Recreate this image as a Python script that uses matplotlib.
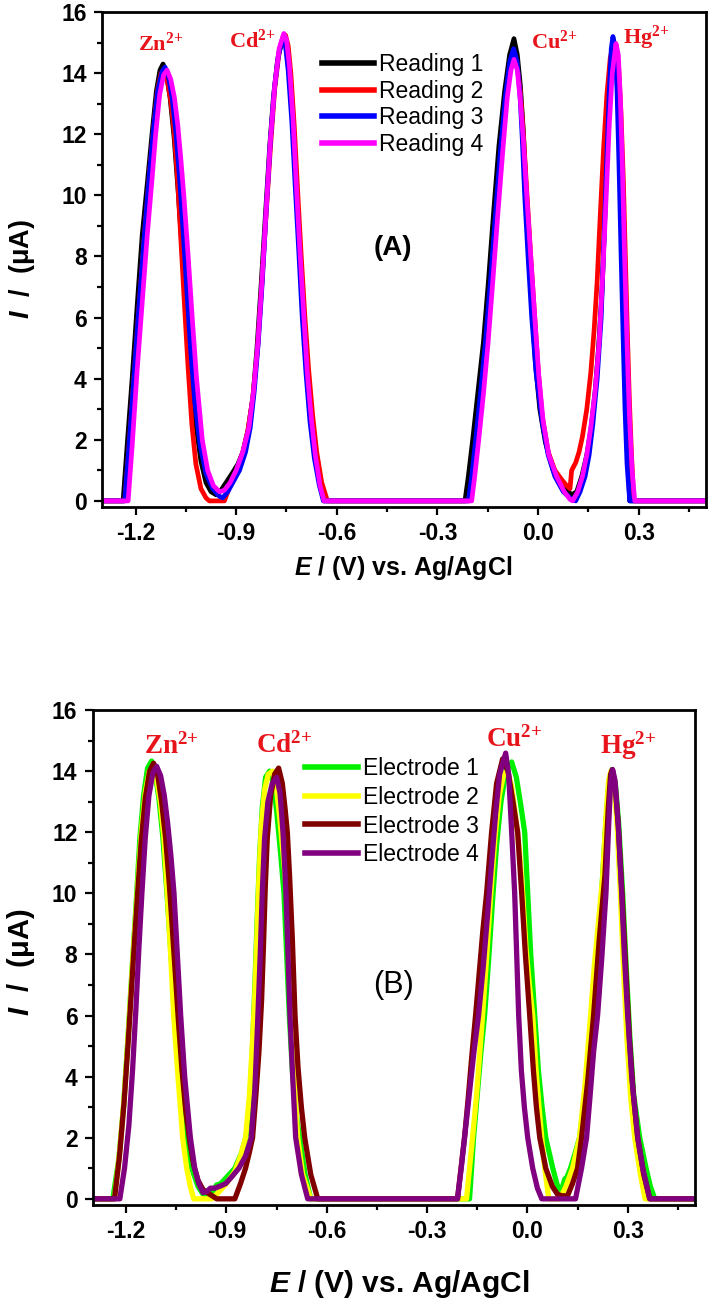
import numpy as np
import matplotlib
matplotlib.use("Agg")
import matplotlib.pyplot as plt
from matplotlib.ticker import MultipleLocator, FormatStrFormatter

plt.rcParams['font.family'] = ['Liberation Sans', 'DejaVu Sans']
plt.rcParams['font.weight'] = 'bold'
plt.rcParams['axes.unicode_minus'] = False
plt.rcParams['mathtext.fontset'] = 'custom'
plt.rcParams['mathtext.it'] = 'Liberation Sans:italic:bold'
plt.rcParams['mathtext.bf'] = 'Liberation Serif:bold'
plt.rcParams['mathtext.rm'] = 'Liberation Sans:bold'

# ---- panel A : four consecutive readings (E in V, I in uA) ----
reading_1 = [(-1.30, 0), (-1.237, 0), (-1.225, 1.8), (-1.21, 4.0), (-1.195, 6.4), (-1.18, 8.7),
             (-1.163, 10.6), (-1.15, 12.1), (-1.138, 13.4), (-1.127, 14.1), (-1.118, 14.3),
             (-1.108, 14.0), (-1.097, 13.2), (-1.085, 11.9), (-1.072, 10.0), (-1.06, 8.0),
             (-1.047, 6.0), (-1.035, 4.2), (-1.02, 2.5), (-1.005, 1.3), (-0.99, 0.6), (-0.975, 0.3),
             (-0.96, 0.2), (-0.945, 0.35), (-0.93, 0.6), (-0.912, 0.9), (-0.895, 1.2), (-0.88, 1.6),
             (-0.865, 2.3), (-0.85, 3.4), (-0.838, 5.0), (-0.826, 7.0), (-0.812, 9.5), (-0.8, 11.6),
             (-0.789, 13.2), (-0.777, 14.4), (-0.765, 15.0), (-0.758, 15.05), (-0.75, 14.8),
             (-0.742, 14.0), (-0.732, 12.5), (-0.722, 10.5), (-0.711, 8.3), (-0.70, 6.2),
             (-0.69, 4.4), (-0.68, 3.0), (-0.668, 1.9), (-0.656, 1.0), (-0.645, 0.3), (-0.638, 0),
             (-0.218, 0), (-0.208, 0.8), (-0.195, 2.0), (-0.18, 3.5), (-0.163, 5.2), (-0.148, 7.2),
             (-0.133, 9.4), (-0.117, 11.6), (-0.1, 13.4), (-0.085, 14.6),
             (-0.072, 15.13), (-0.062, 14.6), (-0.053, 13.6), (-0.044, 12.1), (-0.036, 10.2),
             (-0.027, 8.2), (-0.018, 6.3), (-0.008, 4.5), (0.005, 3.0), (0.022, 1.9), (0.045, 1.0),
             (0.065, 0.6), (0.085, 0.35), (0.10, 0.2), (0.115, 0.3), (0.13, 0.8), (0.145, 1.5),
             (0.158, 2.4), (0.17, 3.6), (0.18, 5.0), (0.19, 6.8), (0.198, 9.0), (0.205, 11.2),
             (0.212, 13.2), (0.218, 14.5), (0.224, 15.1), (0.23, 14.9), (0.236, 14.0),
             (0.242, 12.2), (0.248, 9.5), (0.254, 6.5), (0.26, 3.8), (0.266, 1.8), (0.273, 0),
             (0.50, 0)]
reading_2 = [(-1.30, 0), (-1.232, 0), (-1.22, 1.7), (-1.205, 4.0), (-1.19, 6.3), (-1.175, 8.5),
             (-1.16, 10.5), (-1.147, 12.1), (-1.135, 13.4), (-1.124, 14.0), (-1.115, 14.1),
             (-1.106, 13.8), (-1.095, 13.1), (-1.085, 12.1), (-1.075, 10.6), (-1.065, 8.6),
             (-1.055, 6.6), (-1.044, 4.5), (-1.032, 2.5), (-1.02, 1.2), (-1.005, 0.4), (-0.99, 0.1),
             (-0.98, 0), (-0.935, 0), (-0.925, 0.3), (-0.91, 0.7), (-0.895, 1.1), (-0.88, 1.6),
             (-0.865, 2.3), (-0.85, 3.4), (-0.836, 5.0), (-0.824, 7.0), (-0.81, 9.5), (-0.797, 11.7),
             (-0.785, 13.5), (-0.772, 14.7), (-0.76, 15.2), (-0.753, 15.25), (-0.745, 14.9),
             (-0.737, 14.0), (-0.727, 12.3), (-0.717, 10.2), (-0.706, 8.0), (-0.695, 6.0),
             (-0.684, 4.3), (-0.672, 2.8), (-0.66, 1.6), (-0.645, 0.6), (-0.628, 0),
             (-0.205, 0), (-0.195, 0.8), (-0.183, 2.0), (-0.169, 3.5), (-0.154, 5.2), (-0.139, 7.2),
             (-0.124, 9.4), (-0.109, 11.5), (-0.094, 13.3), (-0.081, 14.3), (-0.071, 14.5),
             (-0.062, 14.2), (-0.053, 13.4), (-0.044, 12.0), (-0.033, 10.0), (-0.022, 8.0),
             (-0.01, 6.0), (0.0, 4.3), (0.012, 2.8), (0.03, 1.6), (0.05, 1.0), (0.07, 0.7),
             (0.085, 0.5), (0.095, 0.4), (0.10, 1.0), (0.112, 1.25), (0.122, 1.6), (0.132, 2.1),
             (0.145, 3.0), (0.157, 4.2), (0.167, 5.6), (0.176, 7.2), (0.185, 9.3), (0.195, 11.5),
             (0.205, 13.3), (0.215, 14.5), (0.225, 15.0), (0.233, 14.9), (0.24, 14.2),
             (0.247, 12.7), (0.254, 10.5), (0.26, 8.0), (0.266, 5.5), (0.272, 3.3), (0.278, 1.6),
             (0.285, 0), (0.50, 0)]
reading_3 = [(-1.30, 0), (-1.232, 0), (-1.22, 1.7), (-1.205, 4.0), (-1.19, 6.3), (-1.175, 8.5),
             (-1.16, 10.5), (-1.147, 12.1), (-1.134, 13.4), (-1.121, 14.05), (-1.112, 14.2),
             (-1.102, 13.9), (-1.091, 13.2), (-1.08, 12.1), (-1.069, 10.6), (-1.058, 8.8),
             (-1.047, 6.9), (-1.036, 5.0), (-1.023, 3.2), (-1.007, 1.8), (-0.99, 0.9),
             (-0.97, 0.4), (-0.95, 0.15), (-0.94, 0.1), (-0.925, 0.3), (-0.91, 0.6), (-0.89, 1.0),
             (-0.872, 1.6), (-0.858, 2.4), (-0.846, 3.6), (-0.834, 5.2), (-0.822, 7.2),
             (-0.81, 9.6), (-0.798, 11.8), (-0.786, 13.5), (-0.774, 14.6), (-0.762, 15.1),
             (-0.753, 14.9), (-0.745, 14.1), (-0.734, 12.4), (-0.724, 10.3), (-0.713, 8.1),
             (-0.703, 6.0), (-0.692, 4.2), (-0.68, 2.6), (-0.667, 1.4), (-0.652, 0.5), (-0.64, 0),
             (-0.208, 0), (-0.198, 0.8), (-0.186, 2.0), (-0.172, 3.5), (-0.157, 5.2), (-0.142, 7.2),
             (-0.127, 9.4), (-0.112, 11.5), (-0.097, 13.3), (-0.084, 14.4), (-0.073, 14.8),
             (-0.063, 14.4), (-0.054, 13.3), (-0.047, 11.8), (-0.04, 10.0), (-0.03, 8.0),
             (-0.019, 6.0), (-0.006, 4.2), (0.012, 2.6), (0.03, 1.5), (0.05, 0.8), (0.075, 0.3),
             (0.10, 0.05), (0.112, 0), (0.125, 0.3), (0.14, 0.8), (0.152, 1.5), (0.163, 2.5),
             (0.176, 4.0), (0.188, 6.0), (0.196, 8.5), (0.204, 11.0), (0.212, 13.4),
             (0.218, 14.8), (0.223, 15.2), (0.229, 14.8), (0.235, 13.5), (0.241, 11.0),
             (0.247, 8.2), (0.253, 5.5), (0.259, 3.0), (0.265, 1.2), (0.273, 0), (0.50, 0)]
reading_4 = [(-1.30, 0), (-1.222, 0), (-1.21, 1.8), (-1.195, 4.3), (-1.18, 6.5), (-1.165, 8.7),
             (-1.151, 10.5), (-1.14, 12.0), (-1.128, 13.3), (-1.116, 13.95), (-1.106, 14.1),
             (-1.095, 13.8), (-1.084, 13.2), (-1.074, 12.3), (-1.065, 11.2), (-1.056, 10.0),
             (-1.043, 8.0), (-1.031, 6.0), (-1.018, 4.0), (-1.001, 2.0), (-0.985, 1.0),
             (-0.968, 0.5), (-0.95, 0.3), (-0.935, 0.35), (-0.918, 0.6), (-0.90, 1.0),
             (-0.88, 1.6), (-0.862, 2.4), (-0.848, 3.6), (-0.835, 5.2), (-0.823, 7.2),
             (-0.81, 9.6), (-0.798, 11.8), (-0.785, 13.6), (-0.772, 14.8), (-0.758, 15.3),
             (-0.75, 15.1), (-0.741, 14.2), (-0.73, 12.4), (-0.72, 10.2), (-0.709, 8.0),
             (-0.698, 6.0), (-0.688, 4.2), (-0.676, 2.7), (-0.664, 1.5), (-0.65, 0.5), (-0.638, 0),
             (-0.198, 0), (-0.189, 0.8), (-0.177, 2.0), (-0.163, 3.5), (-0.149, 5.2), (-0.135, 7.2),
             (-0.12, 9.4), (-0.105, 11.5), (-0.092, 13.2), (-0.081, 14.1), (-0.072, 14.45),
             (-0.062, 14.1), (-0.053, 13.1), (-0.044, 11.8), (-0.034, 10.0), (-0.022, 8.0),
             (-0.01, 6.0), (0.002, 4.1), (0.015, 2.6), (0.032, 1.5), (0.055, 0.8), (0.078, 0.3),
             (0.095, 0.05), (0.103, 0), (0.118, 0.3), (0.132, 0.8), (0.145, 1.5), (0.157, 2.4),
             (0.17, 3.6), (0.182, 5.2), (0.193, 7.5), (0.203, 10.0), (0.212, 12.3), (0.221, 14.0),
             (0.232, 14.97), (0.239, 14.6), (0.245, 13.2), (0.251, 11.0), (0.257, 8.3),
             (0.264, 5.5), (0.272, 2.8), (0.28, 1.0), (0.288, 0), (0.50, 0)]

# ---- panel B : four different electrodes ----
electrode_1 = [(-1.30, 0), (-1.24, 0), (-1.222, 1.3), (-1.208, 3.0), (-1.195, 5.2), (-1.182, 7.6),
               (-1.17, 9.7), (-1.159, 11.8), (-1.148, 13.2), (-1.136, 14.1), (-1.124, 14.33),
               (-1.113, 13.9), (-1.102, 13.1), (-1.09, 11.8), (-1.078, 10.0), (-1.066, 8.0),
               (-1.052, 6.0), (-1.04, 4.0), (-1.025, 2.0), (-1.004, 1.0), (-0.985, 0.4),
               (-0.97, 0.15), (-0.956, 0.1), (-0.94, 0.25), (-0.93, 0.45), (-0.917, 0.5),
               (-0.90, 0.7), (-0.875, 1.0), (-0.855, 1.5), (-0.84, 2.1), (-0.83, 3.3),
               (-0.822, 5.0), (-0.815, 7.0), (-0.808, 9.2), (-0.801, 11.2), (-0.793, 12.8),
               (-0.783, 13.8), (-0.771, 14.0), (-0.76, 13.6), (-0.75, 12.7), (-0.738, 11.3),
               (-0.728, 10.0), (-0.72, 8.0), (-0.712, 6.0), (-0.703, 4.2), (-0.692, 2.8),
               (-0.681, 2.0), (-0.665, 0.8), (-0.648, 0),
               (-0.173, 0), (-0.161, 2.0), (-0.15, 3.4), (-0.139, 4.8), (-0.128, 6.0),
               (-0.116, 7.8), (-0.104, 9.8), (-0.092, 11.6), (-0.079, 13.0), (-0.064, 14.0),
               (-0.047, 14.3), (-0.033, 13.8), (-0.02, 12.9), (-0.008, 12.0), (0.001, 10.0),
               (0.01, 8.0), (0.022, 6.0), (0.033, 4.2), (0.044, 3.0), (0.055, 2.0), (0.076, 1.0),
               (0.088, 0.5), (0.097, 0.2), (0.105, 0.4), (0.112, 0.65), (0.118, 0.7),
               (0.129, 1.0), (0.143, 1.5), (0.156, 2.0), (0.17, 3.2), (0.185, 4.6), (0.198, 6.0),
               (0.21, 8.0), (0.222, 10.0), (0.233, 12.0), (0.243, 13.5), (0.253, 14.05),
               (0.263, 13.6), (0.273, 12.3), (0.285, 10.0), (0.296, 7.5), (0.307, 5.2),
               (0.318, 3.4), (0.336, 2.0), (0.355, 1.0), (0.368, 0.4), (0.381, 0), (0.50, 0)]
electrode_2 = [(-1.30, 0), (-1.235, 0), (-1.22, 1.5), (-1.206, 3.3), (-1.193, 5.5), (-1.18, 7.9),
               (-1.167, 10.0), (-1.155, 12.0), (-1.143, 13.3), (-1.131, 14.0), (-1.12, 14.1),
               (-1.11, 13.8), (-1.098, 13.0), (-1.087, 11.8), (-1.077, 10.0), (-1.067, 8.0),
               (-1.058, 6.0), (-1.045, 4.0), (-1.031, 2.0), (-1.019, 1.0), (-1.008, 0.4),
               (-0.998, 0), (-0.944, 0), (-0.925, 0.2), (-0.90, 0.5), (-0.875, 0.9),
               (-0.858, 1.4), (-0.843, 2.0), (-0.832, 3.3), (-0.824, 4.8), (-0.816, 6.5),
               (-0.809, 8.6), (-0.803, 10.5), (-0.796, 12.2), (-0.786, 13.4), (-0.775, 13.9),
               (-0.762, 14.0), (-0.751, 13.5), (-0.741, 12.5), (-0.73, 11.2), (-0.72, 10.0),
               (-0.713, 8.0), (-0.706, 6.0), (-0.698, 4.0), (-0.687, 2.0), (-0.672, 0.8),
               (-0.648, 0),
               (-0.182, 0), (-0.164, 2.0), (-0.152, 3.4), (-0.143, 4.7), (-0.134, 6.0),
               (-0.122, 7.9), (-0.11, 9.9), (-0.097, 11.8), (-0.084, 13.2), (-0.071, 13.9),
               (-0.06, 14.0), (-0.047, 13.5), (-0.035, 12.5), (-0.024, 11.4), (-0.014, 10.0),
               (-0.004, 8.2), (0.006, 7.0), (0.016, 6.0), (0.026, 4.2), (0.035, 3.0),
               (0.043, 2.0), (0.052, 1.0), (0.064, 0), (0.097, 0), (0.115, 0.4), (0.135, 1.0),
               (0.156, 2.0), (0.172, 3.7), (0.189, 6.0), (0.2, 7.6), (0.212, 9.0), (0.225, 10.5),
               (0.235, 12.5), (0.243, 13.7), (0.25, 14.0), (0.258, 13.7), (0.268, 12.3),
               (0.278, 10.0), (0.288, 7.4), (0.298, 5.2), (0.309, 3.3), (0.321, 2.0),
               (0.338, 0.8), (0.352, 0), (0.50, 0)]
electrode_3 = [(-1.30, 0), (-1.235, 0), (-1.22, 1.4), (-1.206, 3.2), (-1.193, 5.3), (-1.18, 7.6),
               (-1.167, 9.8), (-1.155, 11.7), (-1.143, 13.1), (-1.13, 14.0), (-1.118, 14.26),
               (-1.106, 13.9), (-1.094, 13.0), (-1.082, 11.8), (-1.071, 10.3), (-1.061, 8.7),
               (-1.052, 7.2), (-1.043, 5.7), (-1.033, 4.2), (-1.022, 2.9), (-1.01, 1.9),
               (-0.998, 1.1), (-0.985, 0.6), (-0.97, 0.3), (-0.95, 0.15), (-0.929, 0),
               (-0.875, 0), (-0.858, 0.5), (-0.843, 1.0), (-0.832, 1.5), (-0.822, 2.0),
               (-0.812, 3.4), (-0.803, 4.8), (-0.795, 6.5), (-0.789, 8.4), (-0.784, 10.2),
               (-0.778, 11.8), (-0.768, 13.2), (-0.756, 13.9), (-0.744, 14.1), (-0.733, 13.6),
               (-0.725, 12.8), (-0.718, 12.0), (-0.711, 10.5), (-0.703, 8.5), (-0.695, 6.0),
               (-0.686, 4.3), (-0.676, 3.0), (-0.666, 2.0), (-0.648, 0.8), (-0.627, 0),
               (-0.209, 0), (-0.188, 2.0), (-0.177, 3.3), (-0.166, 4.7), (-0.155, 6.0),
               (-0.144, 7.4), (-0.133, 8.8), (-0.122, 10.0), (-0.107, 12.0), (-0.092, 13.6),
               (-0.074, 14.4), (-0.058, 14.0), (-0.043, 13.0), (-0.029, 12.0), (-0.017, 10.0),
               (-0.006, 8.0), (0.007, 6.0), (0.018, 4.2), (0.027, 3.0), (0.037, 2.0),
               (0.055, 1.0), (0.075, 0.4), (0.09, 0.15), (0.103, 0.1), (0.12, 0.1),
               (0.135, 0.5), (0.15, 1.0), (0.162, 2.0), (0.18, 3.8), (0.198, 6.0), (0.215, 8.5),
               (0.232, 10.6), (0.242, 12.8), (0.249, 13.9), (0.254, 14.05), (0.262, 13.6),
               (0.272, 12.2), (0.283, 10.0), (0.294, 7.6), (0.305, 5.3), (0.317, 3.4),
               (0.33, 2.0), (0.348, 0.8), (0.366, 0), (0.50, 0)]
electrode_4 = [(-1.30, 0), (-1.219, 0), (-1.205, 1.0), (-1.192, 2.4), (-1.181, 4.2), (-1.171, 6.2),
               (-1.162, 8.2), (-1.153, 10.0), (-1.143, 11.8), (-1.132, 13.2), (-1.12, 13.95),
               (-1.109, 14.16), (-1.097, 13.85), (-1.086, 13.2), (-1.076, 12.3), (-1.066, 11.2),
               (-1.057, 10.0), (-1.047, 8.0), (-1.037, 6.0), (-1.025, 4.0), (-1.008, 2.0),
               (-0.995, 1.0), (-0.983, 0.5), (-0.97, 0.2), (-0.958, 0.25),
               (-0.948, 0.35), (-0.935, 0.35), (-0.918, 0.42), (-0.902, 0.5), (-0.882, 0.75),
               (-0.863, 1.0), (-0.843, 1.4), (-0.826, 2.0), (-0.815, 3.6), (-0.806, 6.0),
               (-0.799, 8.0), (-0.793, 10.0), (-0.786, 11.8), (-0.776, 13.0), (-0.763, 13.6),
               (-0.75, 13.8), (-0.74, 13.3), (-0.731, 12.0), (-0.722, 10.0), (-0.716, 8.0),
               (-0.71, 6.0), (-0.702, 4.0), (-0.693, 2.0), (-0.676, 0.8), (-0.657, 0),
               (-0.209, 0), (-0.198, 1.0), (-0.186, 2.2), (-0.173, 3.5), (-0.16, 4.8),
               (-0.146, 6.0), (-0.132, 7.6), (-0.119, 9.3), (-0.107, 11.0), (-0.095, 12.6),
               (-0.083, 13.9), (-0.065, 14.59), (-0.056, 13.9), (-0.047, 12.0),
               (-0.038, 10.0), (-0.032, 8.0), (-0.026, 6.0), (-0.018, 4.2), (-0.009, 3.0),
               (0.001, 2.0), (0.016, 1.0), (0.03, 0.35), (0.043, 0), (0.144, 0), (0.162, 1.0),
               (0.177, 2.0), (0.187, 3.3), (0.198, 4.8), (0.21, 6.0), (0.222, 7.8), (0.235, 10.0),
               (0.243, 12.2), (0.249, 13.6), (0.255, 14.05), (0.262, 13.7), (0.272, 12.2),
               (0.282, 10.0), (0.29, 8.0), (0.30, 6.0), (0.312, 4.0), (0.33, 2.0), (0.345, 1.0),
               (0.366, 0), (0.50, 0)]

readings = [reading_1, reading_2, reading_3, reading_4]
reading_names = ['Reading 1', 'Reading 2', 'Reading 3', 'Reading 4']
reading_colors = ['#000000', '#FF0000', '#0000FF', '#FF00FF']

electrodes = [electrode_1, electrode_2, electrode_3, electrode_4]
electrode_names = ['Electrode 1', 'Electrode 2', 'Electrode 3', 'Electrode 4']
electrode_colors = ['#00F000', '#FFFF00', '#800000', '#800080']

ions = [r'$\mathbf{Zn^{2{+}}}$', r'$\mathbf{Cd^{2{+}}}$', r'$\mathbf{Cu^{2{+}}}$', r'$\mathbf{Hg^{2{+}}}$']
ion_pos_a = [(-1.193, 14.74), (-0.921, 14.84), (-0.022, 14.8), (0.253, 14.97)]
ion_pos_b = [(-1.148, 14.59), (-0.813, 14.62), (-0.125, 14.79), (0.216, 14.59)]

fig = plt.figure(figsize=(7.08, 12.99), dpi=100)
ax_a = fig.add_axes([0.144, 0.6097, 0.853, 0.381])
ax_b = fig.add_axes([0.131, 0.0724, 0.850, 0.381])


def style_axes(ax, tick_size, xlabel_size, ylabel_size):
    ax.set_xlim(-1.3, 0.5)
    ax.set_ylim(-0.2, 16)
    ax.set_xticks([-1.2, -0.9, -0.6, -0.3, 0.0, 0.3])
    ax.xaxis.set_major_formatter(FormatStrFormatter('%.1f'))
    ax.xaxis.set_minor_locator(MultipleLocator(0.15))
    ax.yaxis.set_major_locator(MultipleLocator(2))
    ax.yaxis.set_minor_locator(MultipleLocator(1))
    ax.tick_params(which='major', length=6, width=1.6, labelsize=tick_size, pad=5)
    ax.tick_params(which='minor', length=3.5, width=1.6)
    ax.tick_params(top=False, right=False)
    for s in ax.spines.values():
        s.set_linewidth(2.0)
    for t in ax.get_xticklabels() + ax.get_yticklabels():
        t.set_fontweight('bold')
    ax.set_xlabel(r'$\mathit{E}$ / (V) vs. Ag/AgCl', fontsize=xlabel_size, fontweight='bold')
    ax.set_ylabel(r'$\mathit{I}$  /  (μA)', fontsize=ylabel_size, fontweight='bold')


for data, name, col in zip(readings, reading_names, reading_colors):
    e, i = zip(*data)
    ax_a.plot(e, i, color=col, lw=3.4, label=name, solid_joinstyle='round')
for data, name, col in zip(electrodes, electrode_names, electrode_colors):
    e, i = zip(*data)
    ax_b.plot(e, i, color=col, lw=3.8, label=name, solid_joinstyle='round')

style_axes(ax_a, 16.5, 18, 19.5)
style_axes(ax_b, 16.5, 21.5, 21)

for lab, (x, y) in zip(ions, ion_pos_a):
    ax_a.text(x, y, lab, color='#E8141C', fontsize=16, ha='left', va='baseline')
for lab, (x, y) in zip(ions, ion_pos_b):
    ax_b.text(x, y, lab, color='#E8141C', fontsize=19.5, ha='left', va='baseline')

ax_a.text(-0.433, 8.27, '(A)', fontsize=20, fontweight='bold', ha='center', va='center')
ax_b.text(-0.40, 7.0, '(B)', fontsize=22, fontweight='normal', ha='center', va='center')

leg_a = ax_a.legend(loc='upper left', bbox_to_anchor=(0.364, 0.918), frameon=False,
                    fontsize=16.5, handlelength=2.3, handletextpad=0.2, labelspacing=0.17,
                    borderpad=0, borderaxespad=0)
leg_b = ax_b.legend(loc='upper left', bbox_to_anchor=(0.352, 0.905), frameon=False,
                    fontsize=16.5, handlelength=2.35, handletextpad=0.2, labelspacing=0.25,
                    borderpad=0, borderaxespad=0)
for leg in (leg_a, leg_b):
    for t in leg.get_texts():
        t.set_fontweight('normal')
    for h in leg.legend_handles:
        h.set_linewidth(4)

ax_a.xaxis.set_label_coords(0.498, -0.095)
ax_a.yaxis.set_label_coords(-0.108, 0.48)
ax_b.xaxis.set_label_coords(0.51, -0.128)
ax_b.yaxis.set_label_coords(-0.093, 0.49)

fig.savefig('out.png', dpi=100)
